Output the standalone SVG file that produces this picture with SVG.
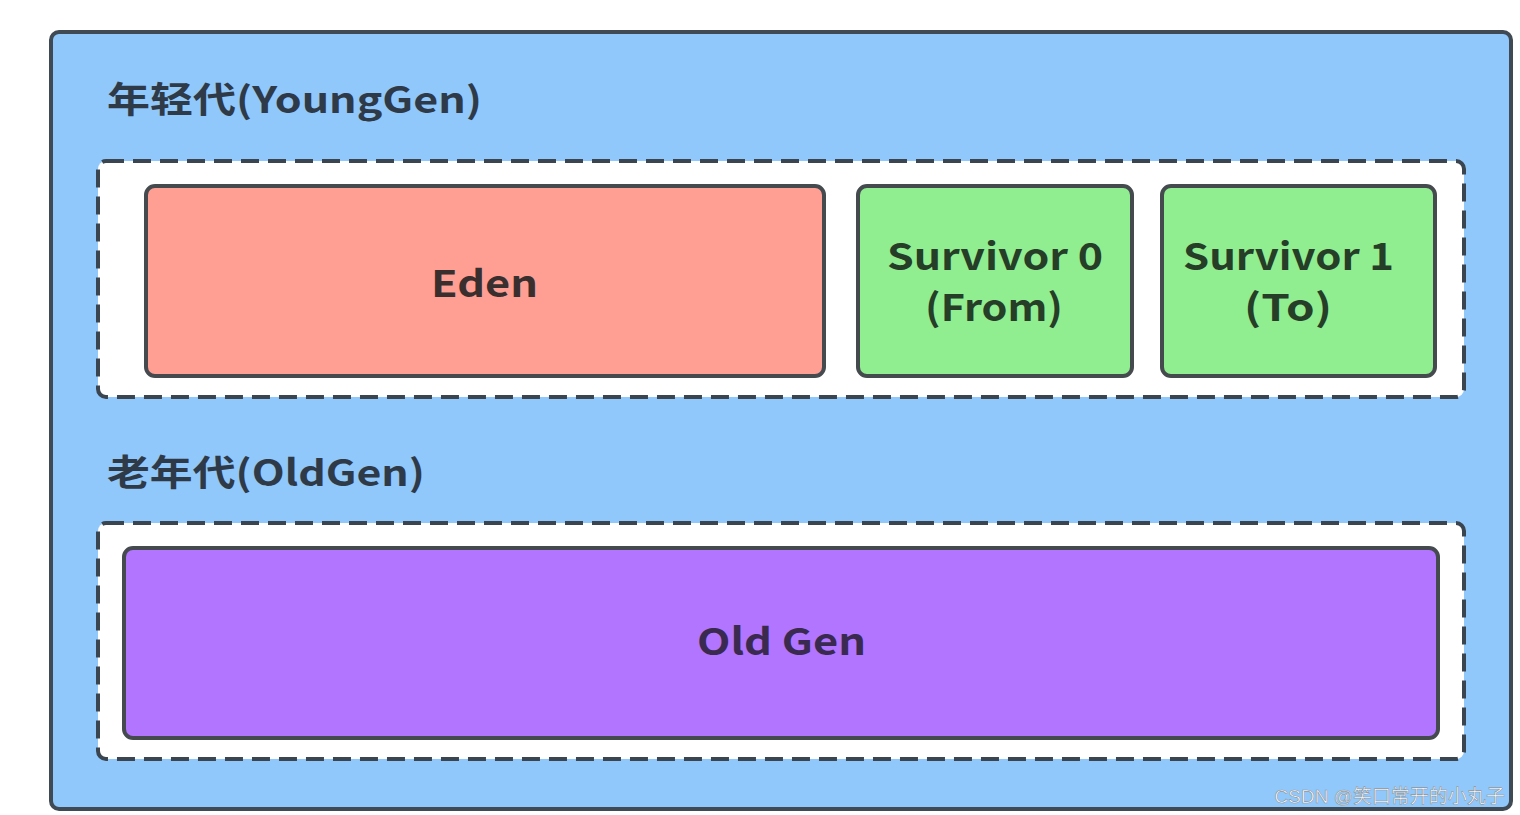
<svg xmlns="http://www.w3.org/2000/svg" width="1520" height="815" viewBox="0 0 1520 815">
<style>
.t{font-family:"Noto Sans CJK SC","Noto Sans",sans-serif;font-weight:bold;fill:#2f3a48}
.c{text-anchor:middle}
.dash{fill:#ffffff;stroke:#3a4550;stroke-width:4;stroke-dasharray:18,9}
.box{stroke:#454a4f;stroke-width:4}
</style>
<rect width="1520" height="815" fill="#ffffff"/>
<g id="heap">
<rect x="51" y="32" width="1460" height="777" rx="8" fill="#90c8fc" stroke="#3f4a55" stroke-width="4"/>
</g>
<g id="young">
<text class="t" x="107" y="113" font-size="36" textLength="375" lengthAdjust="spacingAndGlyphs">年轻代(YoungGen)</text>
<rect class="dash" x="98" y="161" width="1366" height="236" rx="8"/>
</g>
<g id="eden">
<rect class="box" x="146" y="186" width="678" height="190" rx="9" fill="#ff9f94"/>
<text class="t" x="431" y="297" font-size="37" fill="#3a2f2f" style="fill:#3a2f2f" textLength="107" lengthAdjust="spacingAndGlyphs">Eden</text>
</g>
<g id="s0">
<rect class="box" x="858" y="186" width="274" height="190" rx="9" fill="#90ee90"/>
<text class="t" x="887" y="270" font-size="37" style="fill:#263d28" textLength="216" lengthAdjust="spacingAndGlyphs">Survivor 0</text>
<text class="t" x="925" y="321" font-size="37" style="fill:#263d28" textLength="138" lengthAdjust="spacingAndGlyphs">(From)</text>
</g>
<g id="s1">
<rect class="box" x="1162" y="186" width="273" height="190" rx="9" fill="#90ee90"/>
<text class="t" x="1183" y="270" font-size="37" style="fill:#263d28" textLength="211" lengthAdjust="spacingAndGlyphs">Survivor 1</text>
<text class="t" x="1244" y="321" font-size="37" style="fill:#263d28" textLength="88" lengthAdjust="spacingAndGlyphs">(To)</text>
</g>
<g id="old">
<text class="t" x="107" y="486" font-size="36" textLength="318" lengthAdjust="spacingAndGlyphs">老年代(OldGen)</text>
<rect class="dash" x="98" y="523" width="1366" height="236" rx="8"/>
</g>
<g id="oldgen">
<rect class="box" x="124" y="548" width="1314" height="190" rx="9" fill="#b175ff" stroke="#4a3a5a"/>
<text class="t" x="697" y="655" font-size="37" style="fill:#3a2a50" textLength="169" lengthAdjust="spacingAndGlyphs">Old Gen</text>
</g>
<g id="connectors"></g>
<text x="1505" y="803" font-size="19" text-anchor="end" font-family="'Liberation Sans','Noto Sans CJK SC',sans-serif" fill="#ffffff" stroke="#8a939c" stroke-width="0.6">CSDN @笑口常开的小丸子</text>
</svg>
